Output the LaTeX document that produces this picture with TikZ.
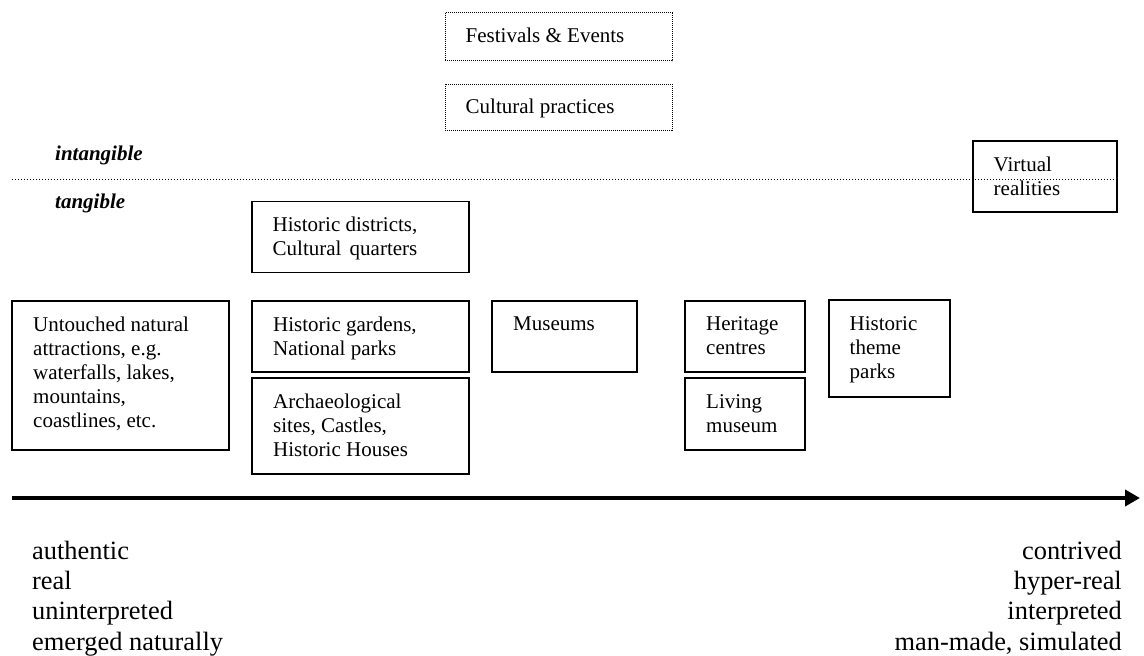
\documentclass[tikz,border=0pt]{standalone}
\usepackage{fontspec}
\setmainfont{Liberation Serif}
\usetikzlibrary{arrows.meta,calc}

% multi-line text whose reference point is the first baseline
\newcommand\boxlines[1]{\begin{tabular}[t]{@{}l@{}}#1\end{tabular}}
\newcommand\boxlinesr[1]{\begin{tabular}[t]{@{}r@{}}#1\end{tabular}}

\tikzset{
  frame/.style={draw, line width=1.5pt, inner sep=0pt, outer sep=0pt, anchor=north west},
  dotframe/.style={draw, line width=1pt, dash pattern=on 1pt off 1pt, inner sep=0pt, outer sep=0pt, anchor=north west},
  boxtext/.style={anchor=base west, inner sep=0pt, font=\fontsize{21}{24}\selectfont},
  sidelabel/.style={anchor=base west, inner sep=0pt, font=\fontsize{21}{24}\selectfont\bfseries\itshape},
  scalelabel/.style={inner sep=0pt, font=\fontsize{26.4}{30.4}\selectfont},
  divider/.style={line width=1pt, dash pattern=on 1pt off 2pt},
  axis/.style={line width=4pt, -{Triangle[length=15pt,width=16pt]}},
}

\begin{document}
\begin{tikzpicture}[x=1pt,y=-1pt]
\useasboundingbox (0,0) rectangle (1144,656);

% intangible heritage (dotted frames)
\node[dotframe, minimum width=227pt, minimum height=48pt] (fest) at (445,12.7) {};
\node[boxtext] (fest-t) at ($(fest.north west)+(20.5,30)$) {Festivals \& Events};
\node[dotframe, minimum width=227pt, minimum height=46pt] (cult) at (445,84) {};
\node[boxtext] (cult-t) at ($(cult.north west)+(20.5,29.5)$) {Cultural practices};

% divider between intangible and tangible
\coordinate (divL) at (12,179.5);
\coordinate (divR) at (1117,179.5);
\draw[divider] (divL) -- (divR);
\node[sidelabel] (intang) at (55,160.5) {intangible};
\node[sidelabel] (tang) at (55,208) {tangible};

% virtual realities straddles the divider
\node[frame, minimum width=144pt, minimum height=71pt] (virt) at (973,141) {};
\node[boxtext] (virt-t) at ($(virt.north west)+(20.5,30.5)$) {\boxlines{Virtual\\realities}};

% historic districts
\node[frame, minimum width=217pt, minimum height=71pt] (dist) at (252,201.5) {};
\node[boxtext] (dist-t) at ($(dist.north west)+(20.5,30)$) {\boxlines{Historic districts,\\Cultural\hspace{0.39em}quarters}};

% row of attractions
\node[frame, minimum width=217pt, minimum height=149pt] (natural) at (12,301) {};
\node[boxtext] (natural-t) at ($(natural.north west)+(21,30.5)$) {\boxlines{Untouched natural\\attractions, e.g.\\waterfalls, lakes,\\mountains,\\coastlines, etc.}};

\node[frame, minimum width=217pt, minimum height=71pt] (gard) at (252,301) {};
\node[boxtext] (gard-t) at ($(gard.north west)+(21,30.5)$) {\boxlines{Historic gardens,\\National parks}};

\node[frame, minimum width=217pt, minimum height=96pt] (arch) at (252,378) {};
\node[boxtext] (arch-t) at ($(arch.north west)+(21,30)$) {\boxlines{Archaeological\\sites, Castles,\\Historic Houses}};

\node[frame, minimum width=145pt, minimum height=71pt] (mus) at (492,301) {};
\node[boxtext] (mus-t) at ($(mus.north west)+(21,29.5)$) {Museums};

\node[frame, minimum width=120pt, minimum height=71pt] (herit) at (685,301) {};
\node[boxtext] (herit-t) at ($(herit.north west)+(21,29.5)$) {\boxlines{Heritage\\centres}};

\node[frame, minimum width=120pt, minimum height=72pt] (living) at (685,378) {};
\node[boxtext] (living-t) at ($(living.north west)+(21,30)$) {\boxlines{Living\\museum}};

\node[frame, minimum width=121pt, minimum height=97pt] (theme) at (829,300) {};
\node[boxtext] (theme-t) at ($(theme.north west)+(20.5,30)$) {\boxlines{Historic\\theme\\parks}};

% authenticity scale
\coordinate (axL) at (12,498);
\coordinate (axR) at (1140,498);
\draw[axis] (axL) -- (axR);

\node[scalelabel, anchor=base west] (left) at (32,559) {\boxlines{authentic\\real\\uninterpreted\\emerged naturally}};
\node[scalelabel, anchor=base east] (right) at (1122,559) {\boxlinesr{contrived\\hyper-real\\interpreted\\man-made, simulated}};
\end{tikzpicture}
\end{document}
